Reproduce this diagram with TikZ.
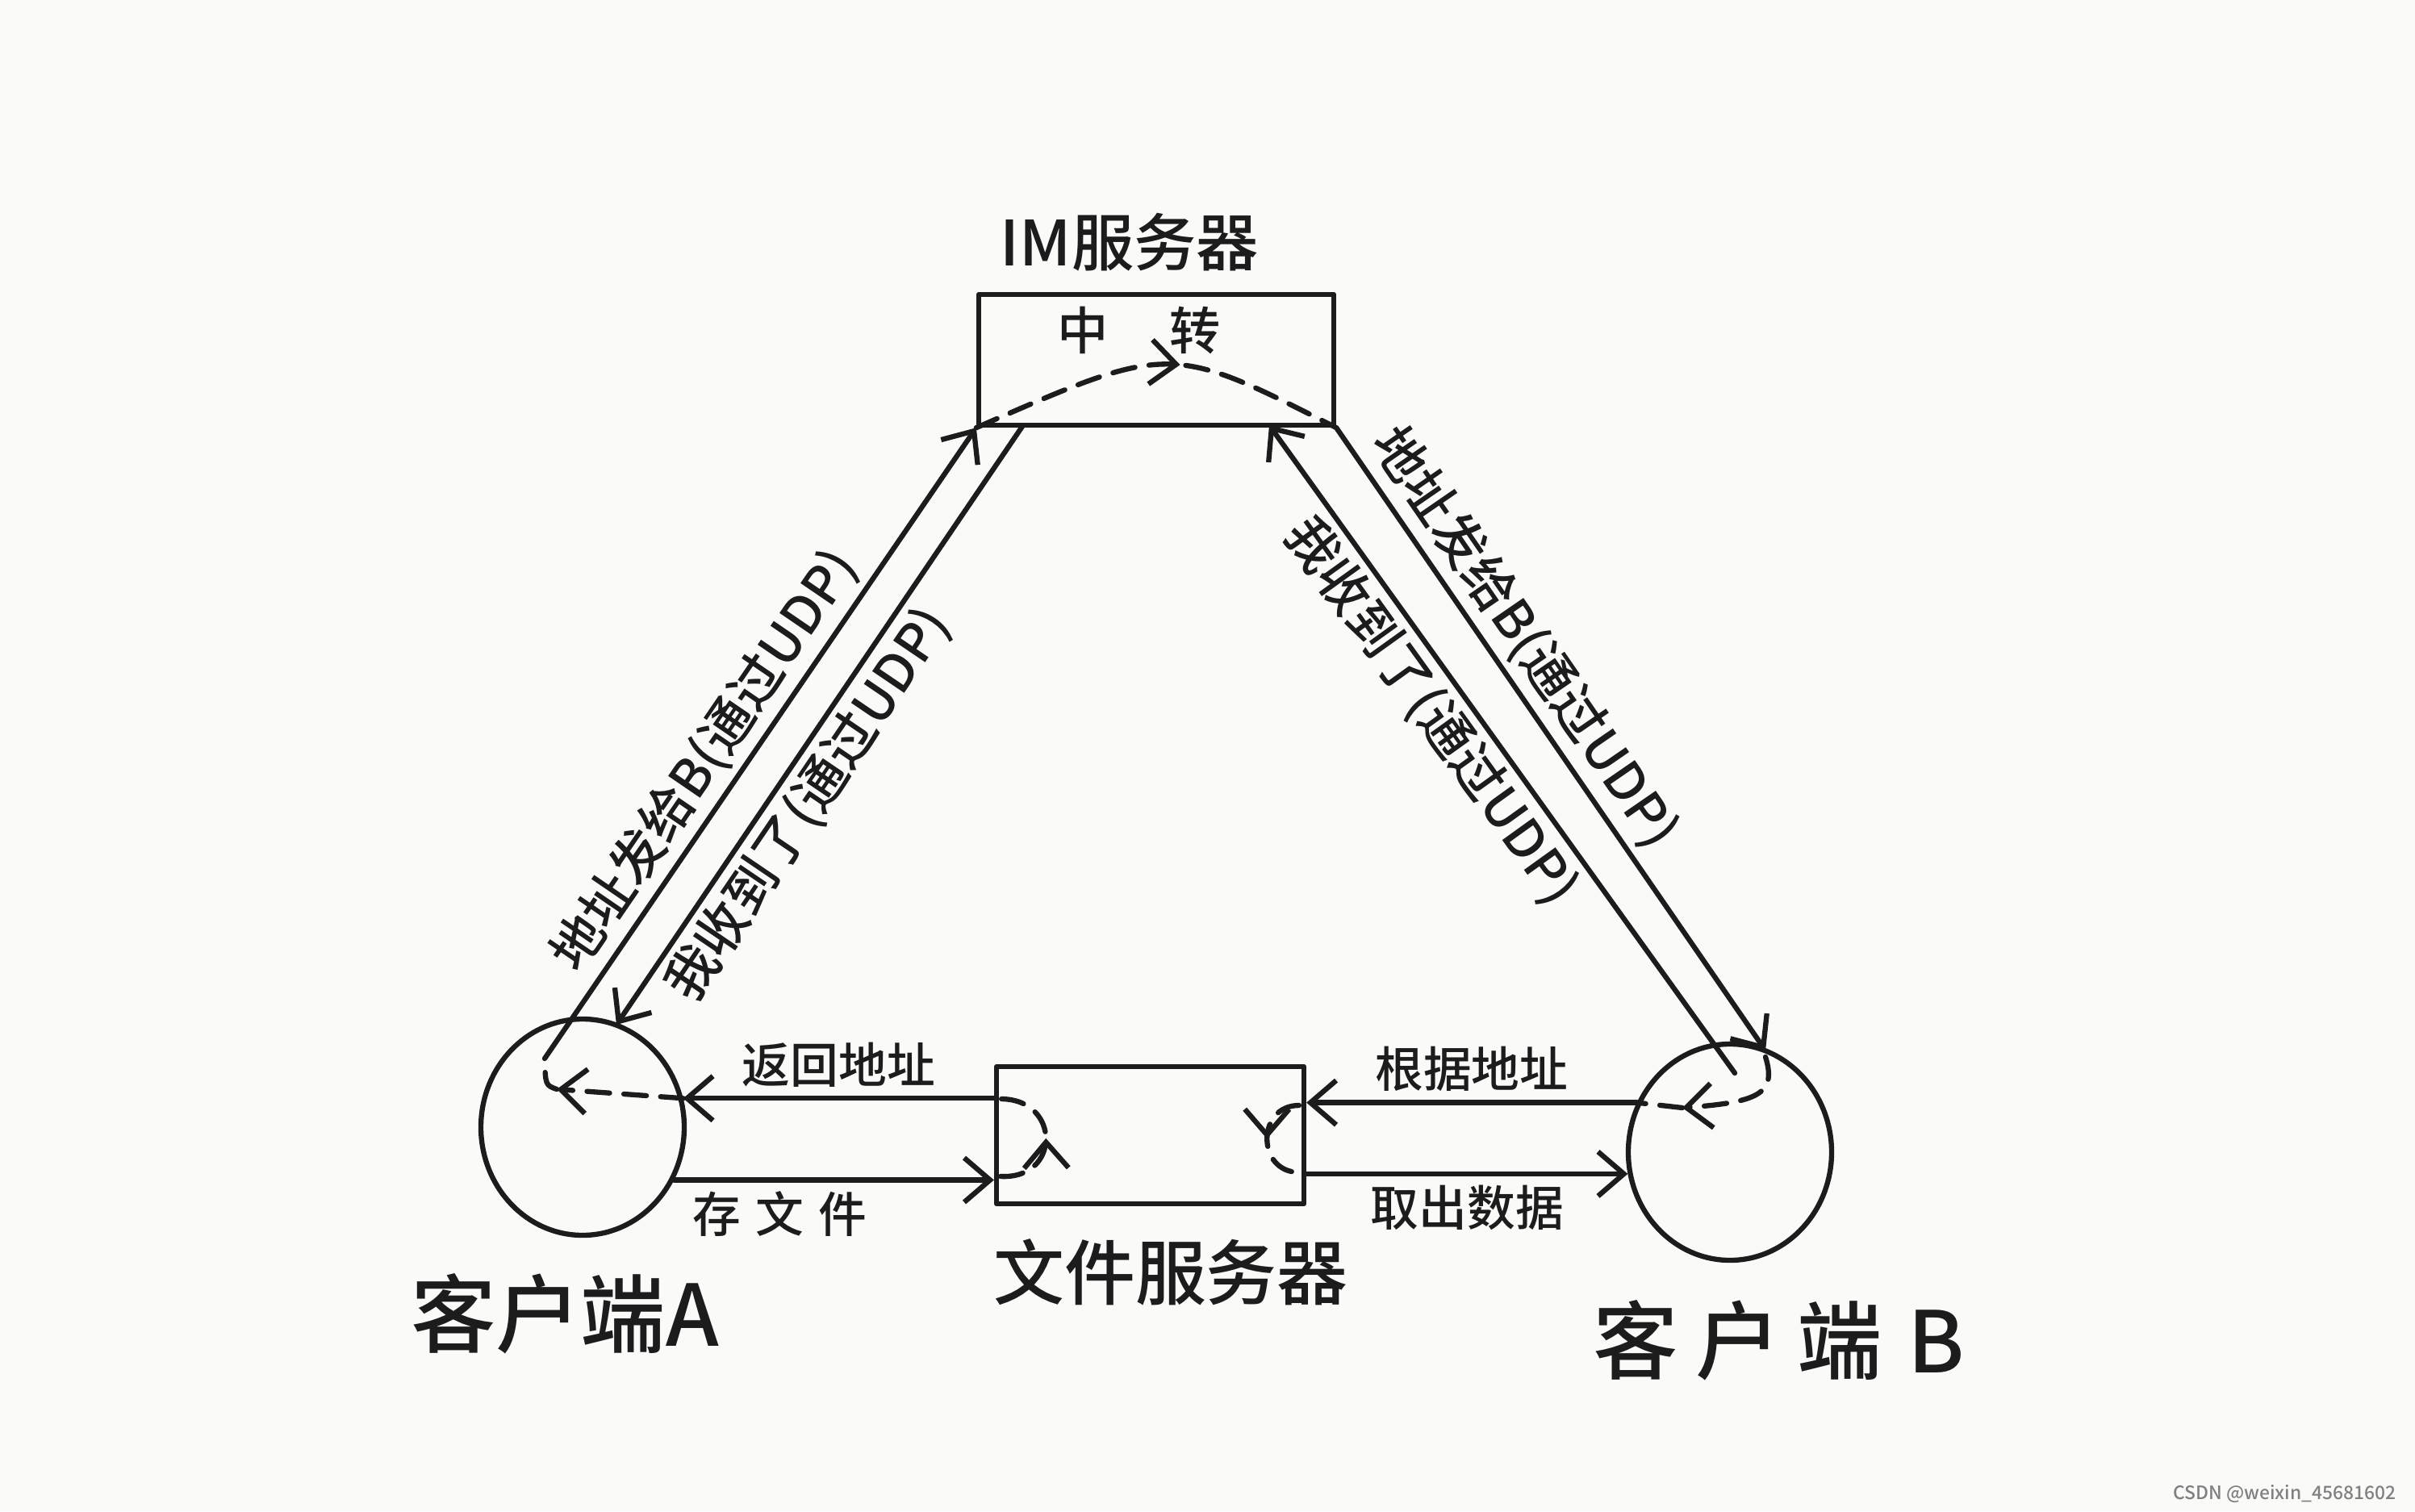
\documentclass[tikz,border=0pt]{standalone}
\usepackage{fontspec}
\setmainfont{Noto Sans CJK SC}[UprightFont={* Medium}]
\usepackage{tikz}
\usetikzlibrary{shapes.geometric,arrows.meta,decorations.markings}

\definecolor{paper}{RGB}{250,250,248}
\definecolor{ink}{RGB}{28,28,28}

\tikzset{
  pen/.style={draw=ink, line width=1.8pt, line cap=round, line join=round},
  box/.style={pen, rectangle, inner sep=0pt},
  client/.style={pen, ellipse, inner sep=0pt, minimum width=2.52cm, minimum height=2.68cm},
  dashline/.style={dash pattern=on 8pt off 5pt},
  midarrow/.style={postaction={decorate},
    decoration={markings, mark=at position #1 with {\arrow{>}}}},
  slant/.style={text=ink, inner sep=2pt, font=\fontsize{18.5}{18.5}\selectfont},
  lbl/.style={text=ink, inner sep=3pt, font=\fontsize{17}{17}\selectfont},
}

\begin{document}
\begin{tikzpicture}[>={Straight Barb[length=3.2mm,width=5.5mm]}]

% fond
\fill[paper] (0,0) rectangle (29.93,-18.73);
\useasboundingbox (0,0) rectangle (29.93,-18.73);

% IM服务器
\node[box, minimum width=4.40cm, minimum height=1.62cm] (im) at (14.33,-4.46) {};
\node[text=ink, font=\fontsize{22}{22}\selectfont] (imtitle) at (14.00,-3.00) {IM服务器};
\node[text=ink, font=\fontsize{18}{18}\selectfont] (relay) at (14.12,-4.10) {中\hspace{1.2em}转};

% 文件服务器
\node[box, minimum width=3.81cm, minimum height=1.70cm] (fs) at (14.255,-14.07) {};
\node[text=ink, font=\fontsize{25}{25}\selectfont] (fstitle) at (14.51,-15.77) {文件服务器};

% 客户端 A / B
\node[client] (ca) at (7.22,-13.97) {};
\node[client] (cb) at (21.44,-14.28) {};
\node[text=ink, font=\fontsize{30}{30}\selectfont] (catitle) at (7.00,-16.28) {客户端A};
\node[text=ink, font=\fontsize{30}{30}\selectfont] (cbtitle) at (22.05,-16.61) {客\hspace{.2em}户\hspace{.2em}端\hspace{.3em}B};

% extrémités des liaisons obliques
\coordinate (aOut) at (6.75,-13.12);
\coordinate (aIn) at (7.64,-12.70);
\coordinate (imL) at (12.68,-5.27);
\coordinate (imR) at (15.73,-5.27);
\coordinate (bOut) at (21.88,-13.02);
\coordinate (bIn) at (21.50,-13.30);

% liaisons UDP côté A
\draw[pen, ->] (aOut) -- (im.south west) node[slant, sloped, above, pos=0.44] (udpA1) {地址发给B(通过UDP)};
\draw[pen, <-] (aIn) -- (imL) node[slant, sloped, below, pos=0.40] (udpA2) {我收到了(通过UDP)};

% liaisons UDP côté B
\draw[pen, ->] (im.south east) -- (bOut) node[slant, sloped, above, pos=0.37] (udpB1) {地址发给B(通过UDP)};
\draw[pen, <-] (imR) -- (bIn) node[slant, sloped, below, pos=0.41] (udpB2) {我收到了(通过UDP)};

% liaisons avec le serveur de fichiers
\draw[pen, ->] (ca.16 -| fs.west) -- (ca.16) node[lbl, above, midway] (ret) {返回地址};
\draw[pen, ->] (ca.-30) -- (ca.-30 -| fs.west) node[lbl, below, pos=0.33] (save) {存\hspace{.3em}文\hspace{.3em}件};
\draw[pen, ->] (cb.152) -- (cb.152 -| fs.east) node[lbl, above, midway] (byaddr) {根据地址};
\draw[pen, ->] (cb.192 -| fs.east) -- (cb.192) node[lbl, below, midway] (fetch) {取出数据};

% trajets en pointillés
\draw[pen, dashline, midarrow=0.56] (im.south west) .. controls (14.50,-4.25) .. (im.south east);
\draw[pen, dashline, midarrow=0.5] (12.40,-14.58) .. controls (13.15,-14.62) and (13.15,-13.62) .. (12.40,-13.62);
\draw[pen, dashline, midarrow=0.5] (16.10,-13.70) .. controls (15.57,-13.70) and (15.57,-14.53) .. (16.10,-14.53);
\draw[pen, dashline, ->] (ca.16) -- (6.90,-13.50);
\draw[pen, dashline] (6.90,-13.50) .. controls (6.76,-13.45) .. (aOut);
\draw[pen, dashline, ->] (21.88,-13.10) .. controls (22.02,-13.55) and (21.80,-13.66) .. (20.85,-13.73);
\draw[pen, dashline] (20.85,-13.73) -- (cb.152);

% filigrane
\node[text=gray, anchor=east, font=\fontsize{6.5}{6.5}\selectfont] (watermark) at (29.82,-18.52) {CSDN @weixin\_45681602};

\end{tikzpicture}
\end{document}
